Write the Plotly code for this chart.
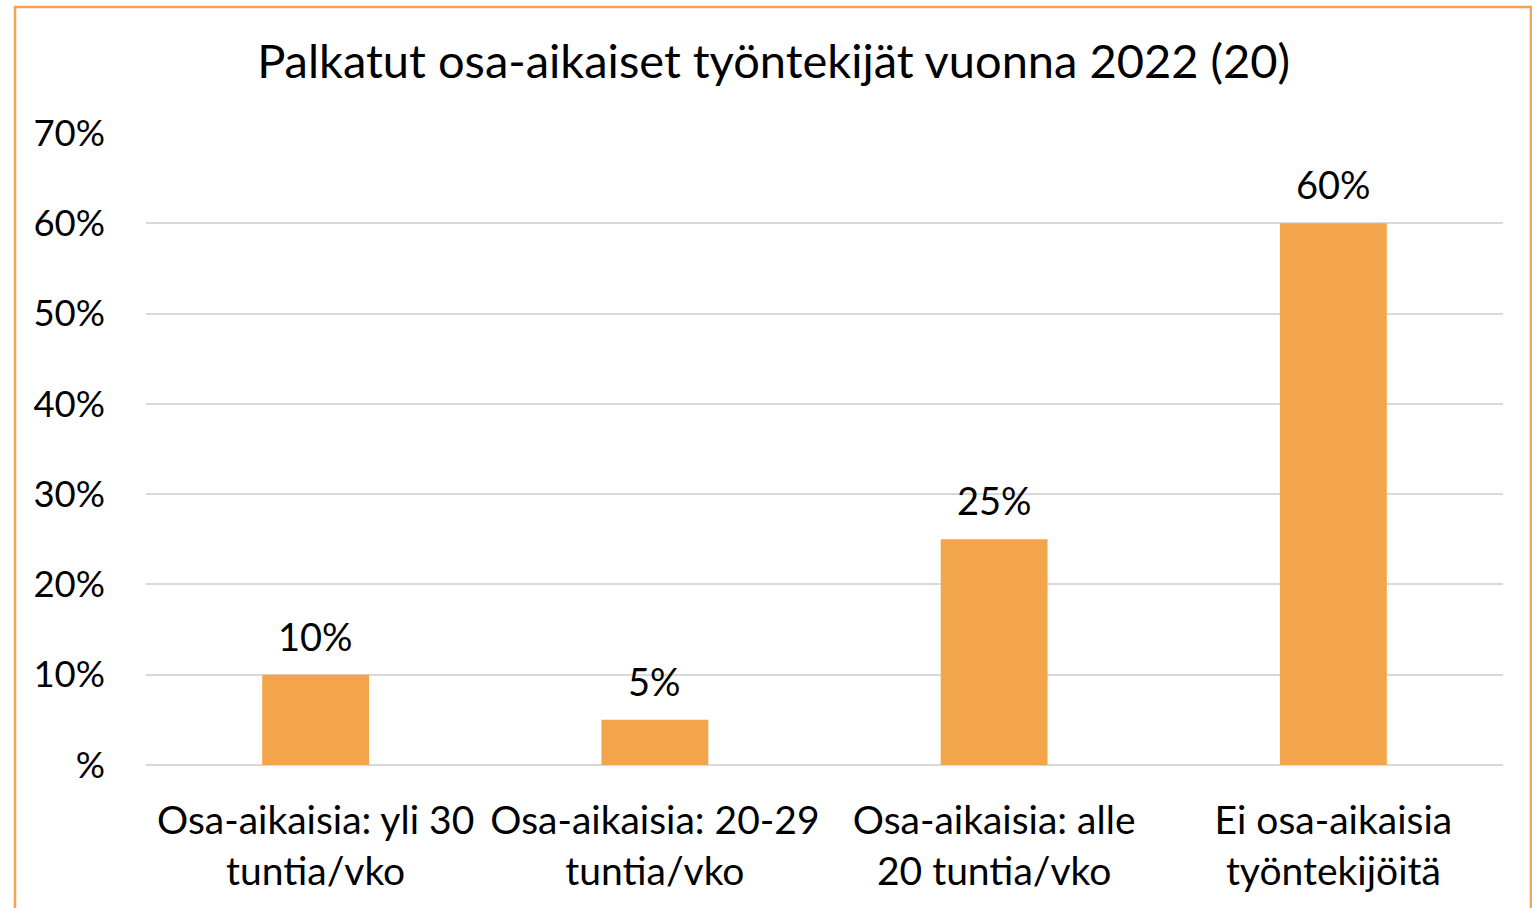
import plotly.graph_objects as go

categories = ["Osa-aikaisia: yli 30<br>tuntia/vko",
              "Osa-aikaisia: 20-29<br>tuntia/vko",
              "Osa-aikaisia: alle<br>20 tuntia/vko",
              "Ei osa-aikaisia<br>työntekijöitä"]
values = [0.10, 0.05, 0.25, 0.60]
value_labels = ["10%", "5%", "25%", "60%"]
tick_vals = [0, 0.1, 0.2, 0.3, 0.4, 0.5, 0.6, 0.7]
tick_text = ["%", "10%", "20%", "30%", "40%", "50%", "60%", "70%"]
title_text = "Palkatut osa-aikaiset työntekijät vuonna 2022 (20)"

FONT = "Lato, Carlito, Calibri, sans-serif"
BAR = "#F2A54A"

W, H = 1532, 908
L, R, T, B = 146, 29, 133, 143
pw = W - L - R
ph = H - T - B

fig = go.Figure()
fig.add_trace(go.Bar(x=categories, y=values, marker=dict(color=BAR, line=dict(width=0)),
                     width=0.315, hoverinfo="skip"))

for c, v, t in zip(categories, values, value_labels):
    fig.add_annotation(x=c, y=v, text=t, showarrow=False, yanchor="bottom",
                       yshift=14, font=dict(family=FONT, size=38, color="black"))

# outer chart border
x0 = (15 - L) / pw
x1 = (1531 - L) / pw
y1 = (H - B - 7) / ph
y0 = (H - B - 930) / ph
fig.add_shape(type="rect", xref="paper", yref="paper", x0=x0, x1=x1, y0=y0, y1=y1,
              line=dict(color="#F4A54B", width=2.5), fillcolor="rgba(0,0,0,0)", layer="above")

fig.update_layout(
    width=W, height=H, autosize=False,
    margin=dict(l=L, r=R, t=T, b=B, pad=0),
    paper_bgcolor="white", plot_bgcolor="white",
    showlegend=False,
    title=dict(text=title_text, x=0.505, xanchor="center", xref="container",
               y=1 - 62 / H, yanchor="middle", yref="container",
               font=dict(family=FONT, size=47, color="black")),
    font=dict(family=FONT, size=38, color="black"),
    bargap=0.685,
)
fig.update_xaxes(showgrid=False, showline=False, ticks="", ticklabelstandoff=29,
                 tickfont=dict(family=FONT, size=39, color="black"), fixedrange=True)
fig.update_yaxes(range=[0, 0.7], tickvals=tick_vals, ticktext=tick_text,
                 showgrid=True, gridcolor="#D9D9D9", gridwidth=2,
                 zeroline=True, zerolinecolor="#D9D9D9", zerolinewidth=2,
                 showline=False, ticks="", ticklabelstandoff=40,
                 tickfont=dict(family=FONT, size=36.5, color="black"), fixedrange=True)

fig.write_html("out.html", config={"displayModeBar": False},
               post_script="document.body.style.margin='0';document.body.style.overflow='hidden';")
